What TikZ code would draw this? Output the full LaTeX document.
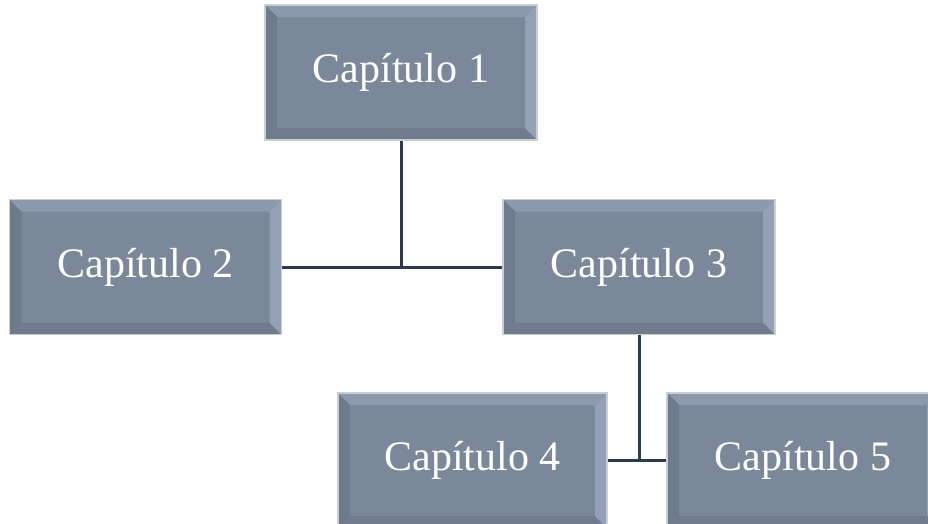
\documentclass[tikz,border=0pt]{standalone}
\usepackage{fontspec}
\setmainfont{Liberation Serif}
\definecolor{boxmid}{HTML}{7B889A}
\definecolor{bevtop}{HTML}{8D9AAE}
\definecolor{bevright}{HTML}{93A0B5}
\definecolor{bevleft}{HTML}{6E7B8D}
\definecolor{bevbot}{HTML}{707C8E}
\definecolor{boxedge}{HTML}{C9CED6}
\definecolor{linkc}{HTML}{2E3B4E}
\begin{document}
\begin{tikzpicture}[x=1pt,y=-1pt,
  chap/.style={draw=boxedge, line width=1.5pt, fill=boxmid, text=white,
    minimum width=272pt, minimum height=135pt, inner sep=0pt,
    font=\fontsize{42}{48}\selectfont,
    path picture={
      \fill[bevtop] (path picture bounding box.north west) -- (path picture bounding box.north east)
        -- ([xshift=-12pt,yshift=-12pt]path picture bounding box.north east)
        -- ([xshift=12pt,yshift=-12pt]path picture bounding box.north west) -- cycle;
      \fill[bevbot] (path picture bounding box.south west) -- (path picture bounding box.south east)
        -- ([xshift=-12pt,yshift=12pt]path picture bounding box.south east)
        -- ([xshift=12pt,yshift=12pt]path picture bounding box.south west) -- cycle;
      \fill[bevleft] (path picture bounding box.north west) -- (path picture bounding box.south west)
        -- ([xshift=12pt,yshift=12pt]path picture bounding box.south west)
        -- ([xshift=12pt,yshift=-12pt]path picture bounding box.north west) -- cycle;
      \fill[bevright] (path picture bounding box.north east) -- (path picture bounding box.south east)
        -- ([xshift=-12pt,yshift=12pt]path picture bounding box.south east)
        -- ([xshift=-12pt,yshift=-12pt]path picture bounding box.north east) -- cycle;
    }},
  link/.style={draw=linkc, line width=3pt}]
\useasboundingbox (0,0) rectangle (928,523);
\node[chap] (c1) at (401,72.5) {Capítulo 1};
\node[chap] (c2) at (145.5,267) {Capítulo 2};
\node[chap] (c3) at (639,267) {Capítulo 3};
\node[chap, minimum width=269pt] (c4) at (472.5,460.5) {Capítulo 4};
\node[chap] (c5) at (803,460.5) {Capítulo 5};
\coordinate (j1) at (c1.south |- c2.east);
\coordinate (j2) at (c3.south |- c4.east);
\draw[link] (c2.east) -- (c3.west);
\draw[link] (c1.south) -- (j1);
\draw[link] (c4.east) -- (c5.west);
\draw[link] (c3.south) -- (j2);
\end{tikzpicture}
\end{document}
